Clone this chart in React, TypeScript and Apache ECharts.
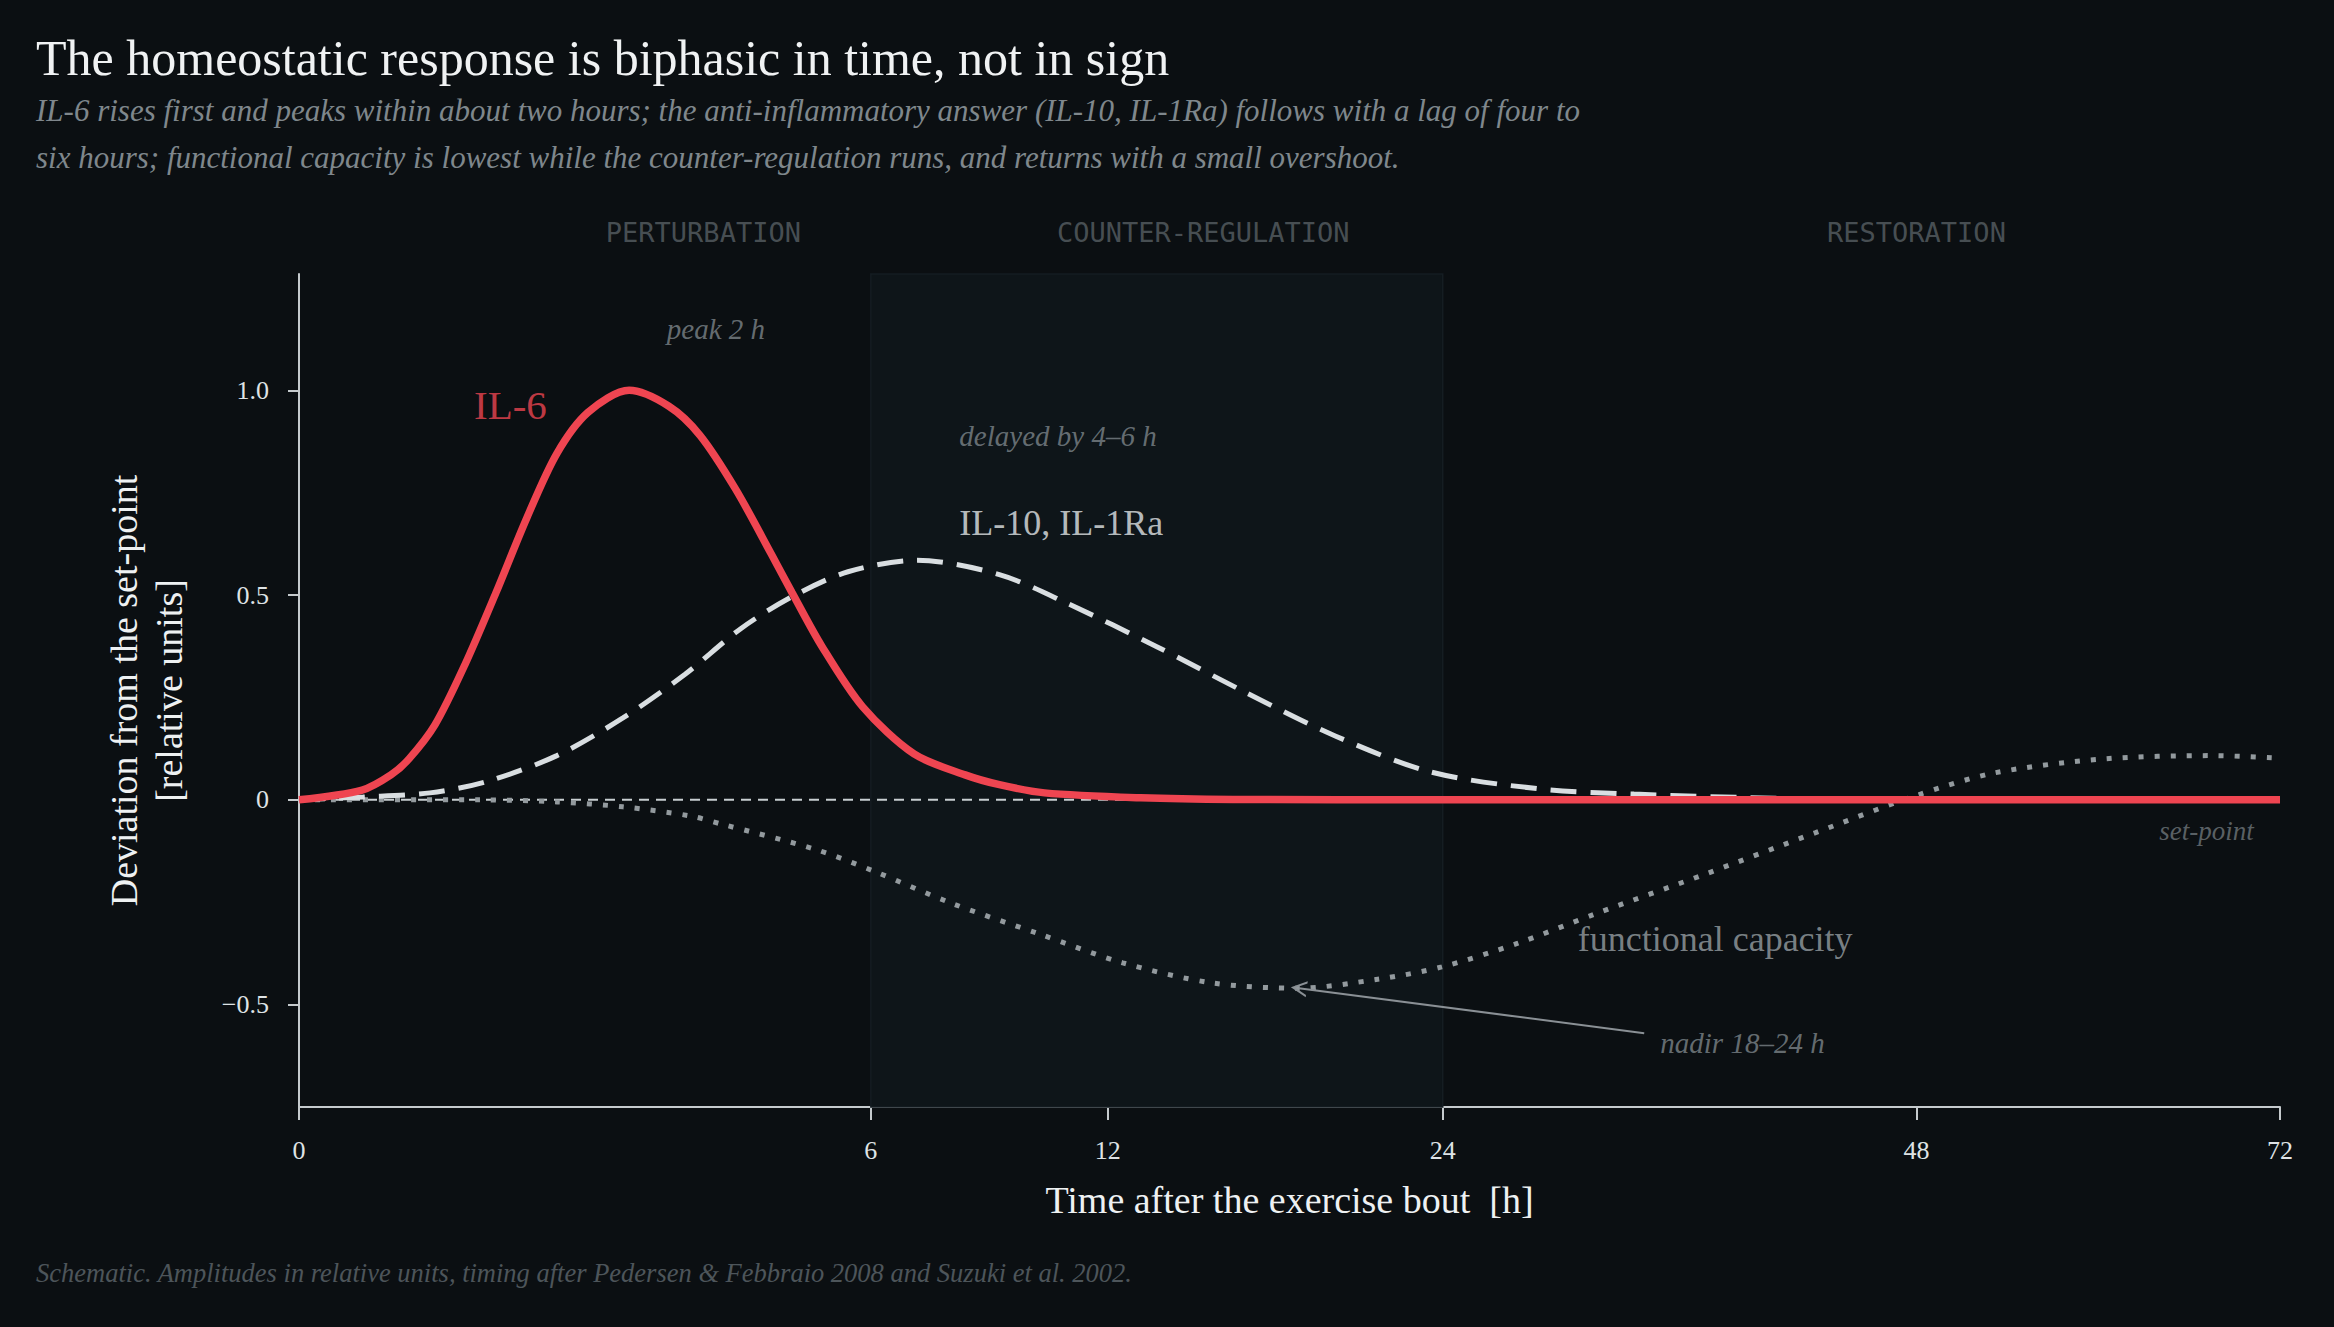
import { useEffect, useRef } from "react";
import * as echarts from "echarts";

const BG = "#0b0f12";
const RED = "#ef4551";
const PALE = "#d9dee1";
const DOT = "#939a9e";
const MUTE = "#7d858a";
const SERIF = "'Liberation Serif', 'DejaVu Serif', serif";
const MONO = "'DejaVu Sans Mono', 'Liberation Mono', monospace";

// hours after the bout
const IL6_H = [0, 0.073, 0.155, 0.222, 0.339, 0.505, 0.712, 0.953, 1.221, 1.532, 2.0, 2.51, 2.95, 3.5, 4.09, 4.46, 5.02, 5.83, 6.94, 8.14, 9.0, 10.2, 13, 16, 24, 48, 72];
const IL6_V = [0, 0.024, 0.061, 0.1, 0.183, 0.33, 0.506, 0.689, 0.846, 0.946, 1.0, 0.961, 0.89, 0.758, 0.601, 0.506, 0.374, 0.227, 0.112, 0.061, 0.037, 0.017, 0.005, 0.001, 0, 0, 0];

const IL10_H = [0, 0.075, 0.315, 0.641, 1.22, 1.925, 2.73, 3.58, 4.46, 5.53, 7.0, 9.0, 10.85, 13.5, 16.45, 19.7, 23.5, 28.2, 32.7, 40, 48, 72];
const IL10_V = [0, 0.007, 0.017, 0.044, 0.108, 0.2, 0.306, 0.418, 0.496, 0.557, 0.585, 0.55, 0.479, 0.374, 0.262, 0.156, 0.068, 0.027, 0.014, 0.004, 0, 0];

const CAP_H = [0, 0.6, 1.22, 1.925, 2.8, 3.27, 4.87, 6.06, 7.8, 10.07, 12.45, 15.29, 18.3, 21.35, 23.96, 27.26, 30.8, 36.3, 42.2, 47.95, 52.76, 59.8, 67.1, 72];
const CAP_V = [0, 0, -0.005, -0.017, -0.039, -0.059, -0.12, -0.174, -0.252, -0.328, -0.398, -0.447, -0.46, -0.438, -0.408, -0.35, -0.279, -0.181, -0.08, 0.01, 0.066, 0.1, 0.108, 0.102];

const SETPOINT_H = [0, 72];
const SETPOINT_V = [0, 0];

const X_TICKS = [0, 6, 12, 24, 48, 72];
const Y_TICKS = [-0.5, 0, 0.5, 1.0];
const BAND = [6, 24];

const PHASES = ["PERTURBATION", "COUNTER-REGULATION", "RESTORATION"];
const PHASE_H = [3, 15, 48];

const TITLE = "The homeostatic response is biphasic in time, not in sign";
const SUB1 = "IL-6 rises first and peaks within about two hours; the anti-inflammatory answer (IL-10, IL-1Ra) follows with a lag of four to";
const SUB2 = "six hours; functional capacity is lowest while the counter-regulation runs, and returns with a small overshoot.";
const FOOT = "Schematic. Amplitudes in relative units, timing after Pedersen & Febbraio 2008 and Suzuki et al. 2002.";

// time axis is square-root scaled
const sx = (h: number) => Math.sqrt(h);
const pts = (hs: number[], vs: number[]) => hs.map((h, i) => [sx(h), vs[i]]);

export default function App() {
  const ref = useRef<HTMLDivElement>(null);

  useEffect(() => {
    document.body.style.margin = "0";
    document.body.style.background = BG;
    if (!ref.current) return;
    const chart = echarts.init(ref.current, undefined, { renderer: "svg" });

    const note = (
      text: string,
      h: number,
      v: number,
      align: string,
      style: Record<string, unknown>
    ) => ({
      value: [sx(h), v],
      label: {
        show: true,
        position: "inside",
        formatter: text,
        align,
        verticalAlign: "middle",
        fontFamily: SERIF,
        ...style,
      },
    });
    const italic = { fontStyle: "italic", fontSize: 29, color: MUTE };

    chart.setOption({
      animation: false,
      backgroundColor: BG,
      textStyle: { fontFamily: SERIF },
      grid: { left: 299, right: 54, top: 274, bottom: 220 },
      graphic: [
        { type: "text", x: 36, y: 58, style: { text: TITLE, fontFamily: SERIF, fontSize: 50, fill: "#f0f2f3", verticalAlign: "middle" } },
        { type: "text", x: 36, y: 110, style: { text: SUB1, fontFamily: SERIF, fontStyle: "italic", fontSize: 31, fill: "#7f878c", verticalAlign: "middle" } },
        { type: "text", x: 36, y: 157, style: { text: SUB2, fontFamily: SERIF, fontStyle: "italic", fontSize: 31, fill: "#7f878c", verticalAlign: "middle" } },
        { type: "text", x: 36, y: 1273, style: { text: FOOT, fontFamily: SERIF, fontStyle: "italic", fontSize: 26.5, fill: "#4d555a", verticalAlign: "middle" } },
      ],
      xAxis: {
        type: "value",
        min: 0,
        max: sx(72),
        name: "Time after the exercise bout  [h]",
        nameLocation: "middle",
        nameGap: 72,
        nameTextStyle: { color: "#eef1f2", fontSize: 38, lineHeight: 42, fontFamily: SERIF },
        axisLine: { onZero: false, lineStyle: { color: "#c5cacd", width: 2 } },
        axisTick: { show: true, inside: false, length: 13, customValues: X_TICKS.map(sx), lineStyle: { color: "#c5cacd", width: 2 } },
        axisLabel: {
          customValues: X_TICKS.map(sx),
          formatter: (v: number) => String(Math.round(v * v)),
          color: "#dfe3e5",
          fontSize: 26,
          margin: 30,
          fontFamily: SERIF,
        },
        splitLine: { show: false },
      },
      yAxis: {
        type: "value",
        min: -0.75,
        max: 1.284,
        name: "Deviation from the set-point\n[relative units]",
        nameLocation: "middle",
        nameRotate: 90,
        nameGap: 108,
        nameTextStyle: { color: "#eef1f2", fontSize: 38, lineHeight: 45, fontFamily: SERIF },
        axisLine: { show: true, onZero: false, lineStyle: { color: "#c5cacd", width: 2 } },
        axisTick: { show: true, inside: false, length: 11, customValues: Y_TICKS, lineStyle: { color: "#c5cacd", width: 2 } },
        axisLabel: {
          customValues: Y_TICKS,
          formatter: (v: number) => (v === 0 ? "0" : v < 0 ? "\u2212" + Math.abs(v).toFixed(1) : v.toFixed(1)),
          color: "#dfe3e5",
          fontSize: 26,
          margin: 30,
          fontFamily: SERIF,
        },
        splitLine: { show: false },
      },
      series: [
        {
          name: "set-point",
          type: "line",
          data: pts(SETPOINT_H, SETPOINT_V),
          symbol: "none",
          silent: true,
          z: 1,
          lineStyle: { color: "#c8ced1", width: 2, type: [10, 7] },
          markArea: {
            silent: true,
            itemStyle: { color: "#0e1519", borderColor: "#151d22", borderWidth: 1.5 },
            data: [[{ xAxis: sx(BAND[0]) }, { xAxis: sx(BAND[1]) }]],
          },
        },
        {
          name: "functional capacity",
          type: "line",
          data: pts(CAP_H, CAP_V),
          symbol: "none",
          smooth: 0.3,
          z: 2,
          lineStyle: { color: DOT, width: 5, type: [5, 11], cap: "butt" },
        },
        {
          name: "IL-10, IL-1Ra",
          type: "line",
          data: pts(IL10_H, IL10_V),
          symbol: "none",
          smooth: 0.3,
          z: 3,
          lineStyle: { color: PALE, width: 5, type: [26, 14] },
        },
        {
          name: "IL-6",
          type: "line",
          data: pts(IL6_H, IL6_V),
          symbol: "none",
          smooth: 0.3,
          z: 4,
          lineStyle: { color: RED, width: 7.5 },
        },
        {
          name: "notes",
          type: "scatter",
          symbolSize: 0,
          silent: true,
          clip: false,
          z: 5,
          data: [
            note("IL-6", 0.82, 0.963, "center", { fontSize: 41, color: RED }),
            note("peak 2 h", 3.19, 1.149, "center", italic),
            note("delayed by 4\u20136 h", 8.0, 0.888, "left", italic),
            note("IL-10, IL-1Ra", 8.0, 0.675, "left", { fontSize: 36, color: "#e3e7e9" }),
            note("functional capacity", 30, -0.34, "left", { fontSize: 36, color: "#979fa3" }),
            note("nadir 18\u201324 h", 34, -0.594, "left", italic),
            note("set-point", 70.1, -0.076, "right", { ...italic, fontSize: 27, color: "#6f777b" }),
            ...PHASES.map((p, i) =>
              note(p, PHASE_H[i], 1.386, "center", { fontFamily: MONO, fontSize: 27, color: "#586065" })
            ),
          ],
          markLine: {
            silent: true,
            symbol: ["none", "path://M0,10 L5,0 L10,10 L8.6,10 L5,2.8 L1.4,10 Z"],
            symbolSize: [16, 16],
            lineStyle: { color: "#8a9095", width: 2, type: "solid" },
            label: { show: false },
            data: [[{ coord: [sx(33.2), -0.57] }, { coord: [sx(18.34), -0.46] }]],
          },
        },
      ],
    });

    return () => chart.dispose();
  }, []);

  return <div ref={ref} style={{ width: 2334, height: 1327 }} />;
}
